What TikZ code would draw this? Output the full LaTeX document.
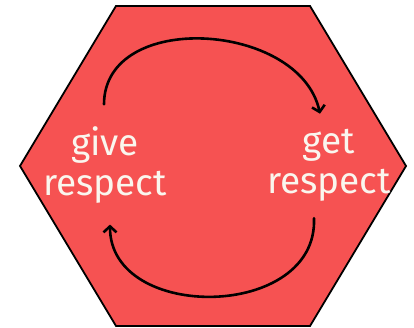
\documentclass[tikz,border=0pt]{standalone}
\usepackage{fontspec}
\setmainfont{Fira Sans}
\usetikzlibrary{arrows.meta}
\definecolor{hexred}{RGB}{246,82,82}
\definecolor{chalk}{RGB}{250,246,238}

\begin{document}
\begin{tikzpicture}[
    x=1pt, y=1pt,
    hexface/.style={draw=black, line width=1.8pt, fill=hexred, line join=miter},
    phrase/.style={text=chalk, font=\fontsize{37}{40}\selectfont, align=center, inner sep=2pt},
    looparrow/.style={-{Straight Barb[length=6pt, width=13pt]}, line width=2.6pt, line cap=round},
]
\useasboundingbox (0,0) rectangle (414,328);

% hexagon
\draw[hexface] (116,322) -- (310,322) -- (406,162) -- (310,2) -- (116,2) -- (20,162) -- cycle;

% the two phrases
\node[phrase] (give) at (105,163) {give\\respect};
\node[phrase] (get) at (329,163) {get\\respect};

% the cycle
\draw[looparrow] ([xshift=-1pt, yshift=20pt]give.north) .. controls +(0,95) and +(-20,92) .. ([xshift=-9pt, yshift=13pt]get.north);
\draw[looparrow] ([xshift=-15pt, yshift=-15pt]get.south) .. controls +(4,-102) and +(0,-98) .. ([xshift=5pt, yshift=-19pt]give.south);
\end{tikzpicture}
\end{document}
